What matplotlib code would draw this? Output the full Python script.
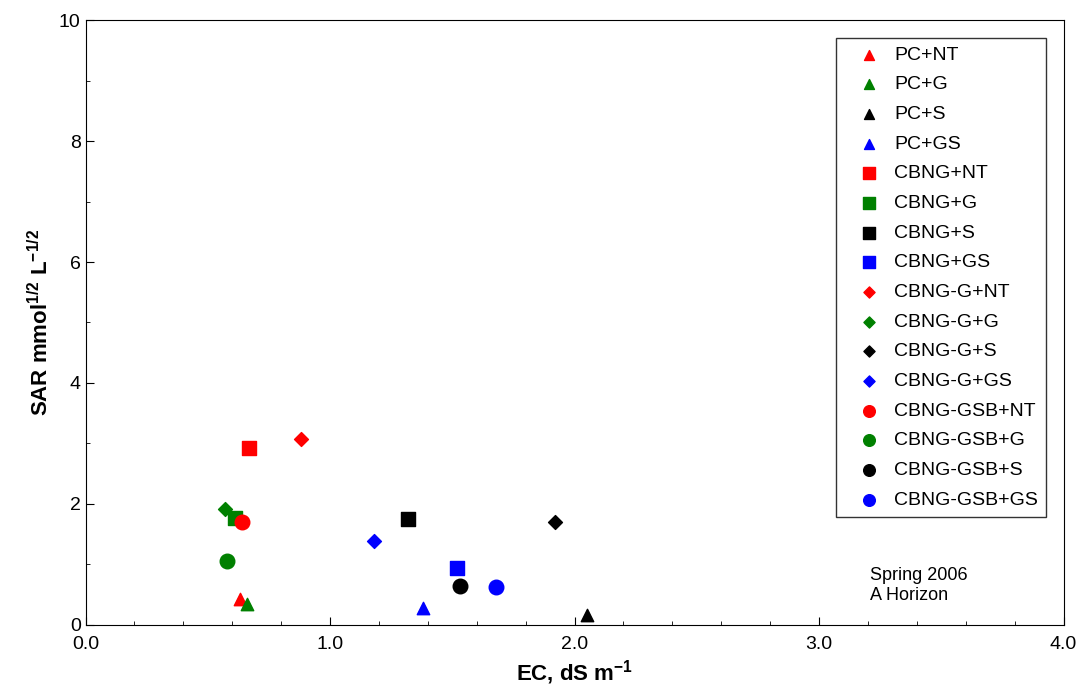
import matplotlib
matplotlib.use("Agg")
import matplotlib.pyplot as plt
from matplotlib.ticker import MultipleLocator, FormatStrFormatter

plt.rcParams["font.family"] = ["Liberation Sans", "DejaVu Sans"]
plt.rcParams["mathtext.fontset"] = "custom"
plt.rcParams["mathtext.rm"] = "Liberation Sans"
plt.rcParams["mathtext.bf"] = "Liberation Sans:bold"

labels = ["PC+NT", "PC+G", "PC+S", "PC+GS",
          "CBNG+NT", "CBNG+G", "CBNG+S", "CBNG+GS",
          "CBNG-G+NT", "CBNG-G+G", "CBNG-G+S", "CBNG-G+GS",
          "CBNG-GSB+NT", "CBNG-GSB+G", "CBNG-GSB+S", "CBNG-GSB+GS"]
ec = [0.63, 0.66, 2.05, 1.38,
      0.67, 0.61, 1.32, 1.52,
      0.88, 0.57, 1.92, 1.18,
      0.64, 0.58, 1.53, 1.68]
sar = [0.42, 0.35, 0.16, 0.28,
       2.93, 1.77, 1.75, 0.94,
       3.08, 1.92, 1.70, 1.39,
       1.70, 1.05, 0.64, 0.62]

colors = ["#ff0000", "#008000", "#000000", "#0000ff"]
markers = ["^", "s", "D", "o"]
sizes = [80, 110, 50, 110]

fig = plt.figure(figsize=(10.83, 6.98), dpi=100)
ax = fig.add_axes([0.079, 0.105, 0.903, 0.866])

for i, lab in enumerate(labels):
    g, c = divmod(i, 4)
    ax.scatter(ec[i], sar[i], marker=markers[g], color=colors[c], s=sizes[g],
               label=lab, zorder=3)

ax.set_xlim(0, 4)
ax.set_ylim(0, 10)
ax.xaxis.set_major_locator(MultipleLocator(1))
ax.xaxis.set_minor_locator(MultipleLocator(0.2))
ax.xaxis.set_major_formatter(FormatStrFormatter("%.1f"))
ax.yaxis.set_major_locator(MultipleLocator(2))
ax.yaxis.set_minor_locator(MultipleLocator(1))
ax.tick_params(which="both", direction="in", labelsize=14)
ax.tick_params(which="major", length=6)
ax.tick_params(which="minor", length=3)
ax.tick_params(axis="x", pad=8)

ax.set_xlabel(r"EC, dS m$^{\mathbf{-1}}$", fontsize=16, fontweight="bold")
ax.set_ylabel(r"SAR mmol$^{\mathbf{1/2}}$ L$^{\mathbf{-1/2}}$", fontsize=16, fontweight="bold")

ax.text(3.21, 0.95, "Spring 2006\nA Horizon", fontsize=13, va="top")

leg = ax.legend(loc="upper right", bbox_to_anchor=(0.982, 0.97), borderaxespad=0,
                fontsize=14, frameon=True, fancybox=False, edgecolor="black",
                handletextpad=0.0, handlelength=2.6, labelspacing=0.62,
                borderpad=0.4, markerscale=0.8, scatterpoints=1)
leg.get_frame().set_linewidth(1)

fig.savefig("out.png", dpi=100)
